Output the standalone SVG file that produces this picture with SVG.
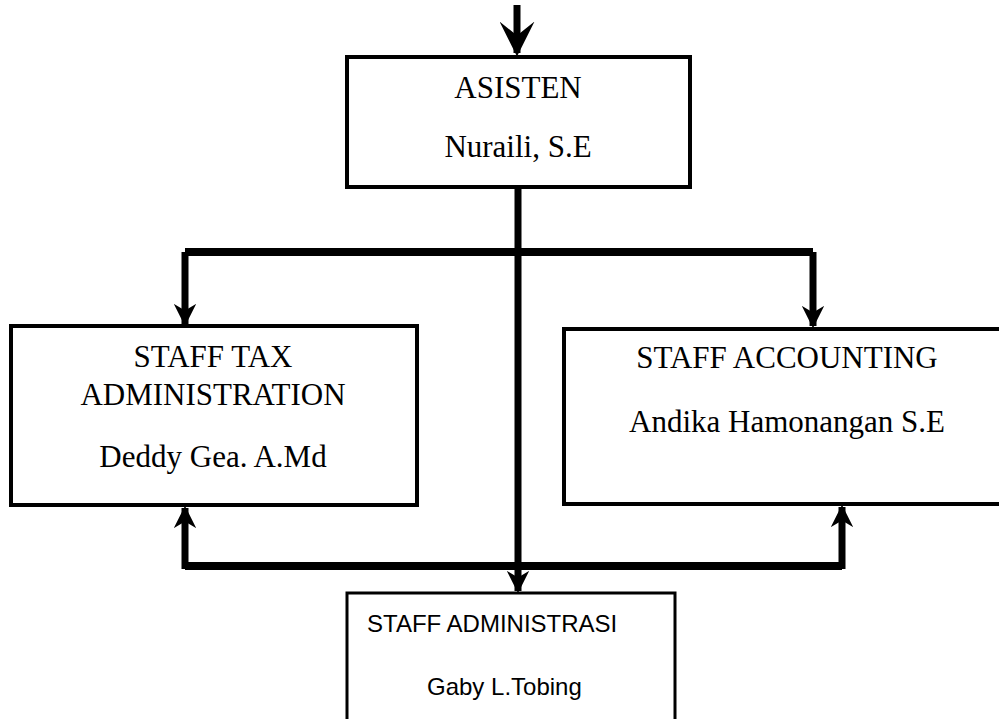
<svg xmlns="http://www.w3.org/2000/svg" width="999" height="719" viewBox="0 0 999 719">
<style>
.box{fill:#fff;stroke:#000;stroke-width:4}
.thin{fill:#fff;stroke:#000;stroke-width:3}
.t{font-family:"Liberation Serif","Times New Roman",serif;font-size:31px;fill:#000;text-anchor:middle}
.s{font-family:"Liberation Sans",Arial,sans-serif;font-size:24px;fill:#000}
.ln{fill:none;stroke:#000;stroke-width:7}
</style>
<defs>
<marker id="ah" viewBox="0 0 10 10" refX="9" refY="5" markerWidth="3.2" markerHeight="3.2" markerUnits="strokeWidth" orient="auto">
<path d="M0,0 L10,5 L0,10 L3,5 Z" fill="#000"/>
</marker>
<marker id="ahBig" viewBox="0 0 10 10" refX="9" refY="5" markerWidth="5" markerHeight="5" markerUnits="strokeWidth" orient="auto">
<path d="M0,0 L10,5 L0,10 L4,5 Z" fill="#000"/>
</marker>
</defs>
<g id="connectors">
<line class="ln" x1="517" y1="5" x2="517" y2="53" marker-end="url(#ahBig)"/>
<line class="ln" x1="518" y1="188" x2="518" y2="591" marker-end="url(#ah)"/>
<polyline class="ln" points="185,252 813,252" style="stroke-width:8"/>
<line class="ln" x1="185" y1="252" x2="185" y2="324" marker-end="url(#ah)"/>
<line class="ln" x1="813" y1="252" x2="813" y2="326" marker-end="url(#ah)"/>
<polyline class="ln" points="185,566 842,566" style="stroke-width:8"/>
<line class="ln" x1="185" y1="569" x2="185" y2="508" marker-end="url(#ah)"/>
<line class="ln" x1="842" y1="569" x2="842" y2="507" marker-end="url(#ah)"/>
</g>
<g id="asisten">
<rect class="box" x="347" y="57" width="343" height="130"/>
<text class="t" x="518" y="98">ASISTEN</text>
<text class="t" x="518" y="157">Nuraili, S.E</text>
</g>
<g id="staff-tax">
<rect class="box" x="11" y="326" width="406" height="179"/>
<text class="t" x="213" y="367">STAFF TAX</text>
<text class="t" x="213" y="405">ADMINISTRATION</text>
<text class="t" x="213" y="467">Deddy Gea. A.Md</text>
</g>
<g id="staff-accounting">
<rect class="box" x="564" y="329" width="445" height="175"/>
<text class="t" x="787" y="368">STAFF ACCOUNTING</text>
<text class="t" x="787" y="432">Andika Hamonangan S.E</text>
</g>
<g id="staff-administrasi">
<rect class="thin" x="347" y="593" width="328" height="140"/>
<text class="s" x="367" y="632">STAFF ADMINISTRASI</text>
<text class="s" x="427" y="695">Gaby L.Tobing</text>
</g>
</svg>
